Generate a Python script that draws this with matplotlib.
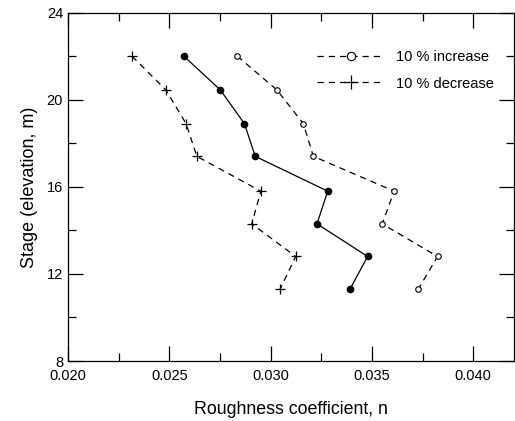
import matplotlib
matplotlib.use('Agg')
import matplotlib.pyplot as plt
from matplotlib.ticker import MultipleLocator, FixedFormatter, FixedLocator

plt.rcParams['font.family'] = ['Liberation Sans', 'DejaVu Sans']

# Stage values (m) shared by all three series
stage = [22.0, 20.45, 18.9, 17.4, 15.8, 14.3, 12.8, 11.3]

# Roughness coefficient for each scenario
n_base = [0.02572, 0.02752, 0.02871, 0.02924, 0.03282, 0.03229, 0.03479, 0.03392]
n_increase = [0.02836, 0.03031, 0.03162, 0.03211, 0.03610, 0.03551, 0.03824, 0.03729]
n_decrease = [0.02316, 0.02483, 0.02583, 0.02636, 0.02952, 0.02907, 0.03124, 0.03047]

x_ticks = [0.020, 0.025, 0.030, 0.035, 0.040]
x_labels = ['0.020', '0.025', '0.030', '0.035', '0.040']
y_ticks = [8, 12, 16, 20, 24]

fig = plt.figure(figsize=(5.15, 4.21), dpi=100)
ax = fig.add_axes([0.132, 0.1425, 0.8655, 0.8275])

ax.plot(n_base, stage, '-', color='black', lw=0.9,
        marker='o', ms=4.5, mfc='black', mec='black')
ax.plot(n_increase, stage, color='black', lw=0.9, dashes=(5, 4),
        marker='o', ms=4, mfc='white', mec='black', mew=0.8,
        label='10 % increase')
ax.plot(n_decrease, stage, color='black', lw=0.9, dashes=(5, 4),
        marker='+', ms=7, mec='black', mew=0.9,
        label='10 % decrease')

ax.set_xlim(0.020, 0.042)
ax.set_ylim(8, 24)
ax.xaxis.set_major_locator(FixedLocator(x_ticks))
ax.xaxis.set_major_formatter(FixedFormatter(x_labels))
ax.xaxis.set_minor_locator(MultipleLocator(0.0025))
ax.yaxis.set_major_locator(FixedLocator(y_ticks))
ax.yaxis.set_minor_locator(MultipleLocator(2))

ax.tick_params(which='both', direction='in', top=True, right=True,
               labelsize=10.5, width=0.9)
ax.tick_params(which='major', length=11)
ax.tick_params(which='minor', length=6)
ax.tick_params(axis='x', which='major', pad=6)
for s in ax.spines.values():
    s.set_linewidth(0.9)

ax.set_xlabel('Roughness coefficient, n', fontsize=12.8, labelpad=13)
ax.set_ylabel('Stage (elevation, m)', fontsize=13, labelpad=6)

ax.legend(loc='upper right', frameon=False, fontsize=10.5,
          handlelength=4.6, handletextpad=0.8, labelspacing=0.85,
          markerscale=1.5, bbox_to_anchor=(0.985, 0.93))

fig.savefig('out.png', dpi=100)
